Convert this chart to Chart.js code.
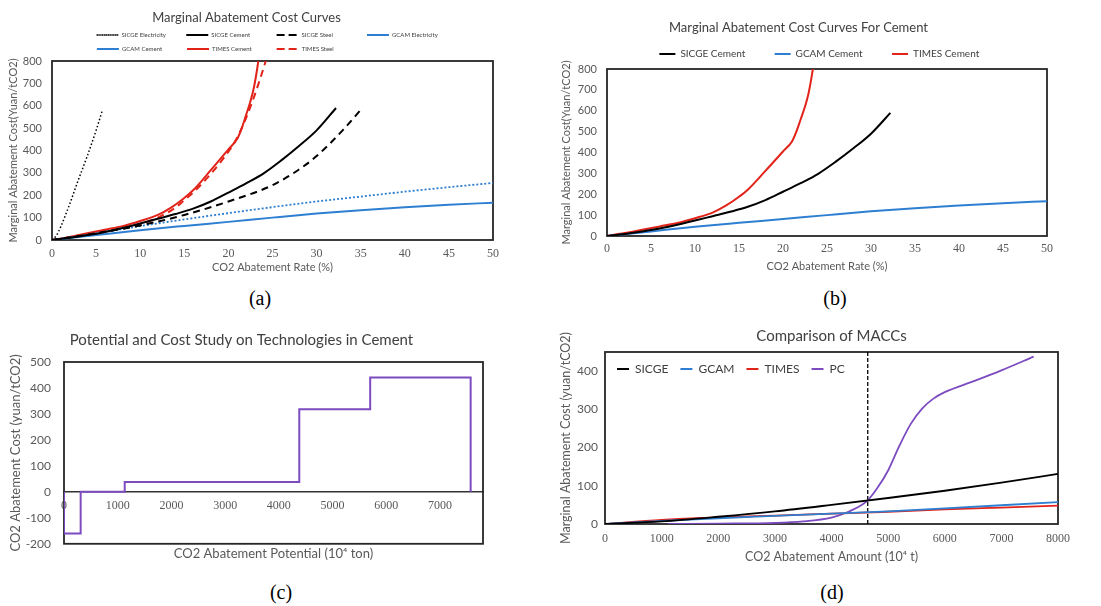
<!DOCTYPE html>
<html>
<head>
<meta charset="utf-8">
<script src="https://cdn.jsdelivr.net/npm/chart.js@4.4.1/dist/chart.umd.min.js"></script>
<style>
  body { margin: 0; background: #fff; }
  #page { position: relative; width: 1101px; height: 606px; overflow: hidden; background: #fff; }
  canvas { position: absolute; }
  .cap { position: absolute; font-family: "Liberation Serif", "Times New Roman", serif; font-size: 20px; color: #000; transform: translate(-50%, -50%); }
</style>
</head>
<body>
<div id="page">
  <canvas id="chartA" width="550" height="276" style="left:0;top:0"></canvas>
  <canvas id="chartB" width="551" height="273" style="left:550px;top:0"></canvas>
  <canvas id="chartC" width="550" height="244" style="left:0;top:320px"></canvas>
  <canvas id="chartD" width="551" height="246" style="left:550px;top:320px"></canvas>
  <div class="cap" style="left:260px;top:298px">(a)</div>
  <div class="cap" style="left:835px;top:298px">(b)</div>
  <div class="cap" style="left:281px;top:592px">(c)</div>
  <div class="cap" style="left:832px;top:592px">(d)</div>
</div>
<script>
// ---- (a) / (b): abatement rate (%) vs marginal cost (yuan/tCO2)
const sicgeElecRate = [0, 0.5, 1, 2, 3, 4, 5, 5.7];
const sicgeElecCost = [0, 20, 60, 160, 270, 375, 490, 578];
const sicgeCementRate = [0, 2, 4, 6, 8, 10, 12, 14, 16, 18, 20, 22, 24, 26, 28, 30, 32.2];
const sicgeCementCost = [0, 10, 22, 36, 54, 74, 95, 116, 140, 172, 212, 253, 298, 356, 420, 490, 590];
const sicgeSteelRate = [0, 5, 10, 15, 20, 25, 28, 30, 33, 34.9];
const sicgeSteelCost = [0, 30, 65, 112, 172, 245, 315, 375, 492, 577];
const gcamRate = [0, 5, 10, 15, 20, 25, 30, 35, 40, 45, 50];
const gcamElecCost = [0, 30, 62, 92, 120, 147, 172, 194, 216, 236, 255];
const gcamCementCost = [0, 22, 44, 63, 81, 100, 118, 133, 146, 157, 167];
const timesCementRate = [0, 2, 4, 6, 8, 10, 12, 13.5, 15, 16, 18, 20, 21, 21.5, 22, 22.5, 22.9, 23.25, 23.5];
const timesCementCost = [0, 14, 30, 46, 62, 85, 112, 145, 188, 222, 312, 405, 452, 498, 558, 620, 683, 762, 830];
const timesSteelRate = [0, 5, 10, 12, 14, 15, 16, 18, 20, 21, 22, 23, 24, 24.5];
const timesSteelCost = [0, 32, 72, 100, 145, 178, 212, 295, 395, 458, 545, 650, 770, 835];
const rateTicks = [0, 5, 10, 15, 20, 25, 30, 35, 40, 45, 50];

// ---- (c): technology blocks (start of cumulative potential, 10^4 t) and cost
const techStart = [0, 310, 1130, 4380, 5700];
const techCost = [-160, 0, 38, 318, 440];
const totalPotential = 7570;
const potentialTicks = [0, 1000, 2000, 3000, 4000, 5000, 6000, 7000];

// ---- (d): abatement amount (10^4 t) vs cost
const amount = [0, 1000, 2000, 3000, 4000, 5000, 6000, 7000, 8000];
const sicgeAmountCost = [0, 7, 19, 33, 50, 68, 87, 108, 131];
const gcamAmountCost = [0, 8, 15, 21, 27, 33, 41, 49, 57];
const timesAmountCost = [0, 11, 17, 22, 27, 32, 38, 43, 48];
const pcAmount = [1110, 2000, 3000, 3500, 4000, 4300, 4640, 4800, 5000, 5200, 5400, 5600, 5800, 6000, 6500, 7000, 7570];
const pcCost = [0, 1, 3, 7, 17, 32, 62, 92, 140, 205, 262, 302, 328, 345, 373, 402, 438];
const crossAmount = 4640;

const BLACK = '#000000', BLUE = '#2e7fd1', RED = '#e2231a', PURPLE = '#7d4bc0';
const SERIF = '"Liberation Serif", "Times New Roman", serif';

Chart.defaults.font.family = 'Lato, "Open Sans", sans-serif';
Chart.defaults.color = '#595959';
Chart.defaults.elements.point.radius = 0;

const pts = (xs, ys) => xs.map((x, i) => ({ x, y: ys[i] }));

function line(label, xs, ys, color, width, dash) {
  return {
    label, data: pts(xs, ys), borderColor: color, backgroundColor: color,
    borderWidth: width, borderDash: dash || [], cubicInterpolationMode: 'monotone'
  };
}

// pad legend texts so every item has the same width (Excel-like grid)
function gridLabels(font, textWidth, fillRow) {
  return chart => {
    const items = Chart.defaults.plugins.legend.labels.generateLabels(chart);
    if (fillRow) items.push({ text: '', fillStyle: 'rgba(0,0,0,0)', strokeStyle: 'rgba(0,0,0,0)', lineWidth: 0, datasetIndex: -1 });
    const ctx = chart.ctx;
    ctx.font = font;
    items.forEach(it => { while (ctx.measureText(it.text).width < textWidth) it.text += ' '; });
    return items;
  };
}

function xAxis(min, max, tickValues, title, titleSize, height, tickPad, titlePad) {
  return {
    type: 'linear', min, max,
    grid: { display: false, drawTicks: false }, border: { display: false },
    afterBuildTicks: s => { s.ticks = tickValues.map(value => ({ value })); },
    ticks: { padding: tickPad, maxRotation: 0, autoSkip: false, callback: v => String(v), font: { family: SERIF, size: 12 } },
    title: { display: true, text: title, font: { size: titleSize }, padding: { top: 0, bottom: titlePad } },
    afterFit: s => { s.height = height; }
  };
}

function yAxis(min, max, step, title, titleSize, tickSize, width, tickPad, titlePad) {
  return {
    min, max,
    grid: { display: false, drawTicks: false }, border: { display: false },
    ticks: { stepSize: step, includeBounds: false, padding: tickPad, font: { size: tickSize } },
    title: { display: true, text: title, font: { size: titleSize }, padding: { top: titlePad, bottom: 0 } },
    afterFit: s => { s.width = width; }
  };
}

const titleFont = size => ({ size, weight: 'normal', lineHeight: 1 });

const plotFrame = {
  id: 'plotFrame',
  beforeDatasetsDraw(chart) {
    const { ctx, chartArea: a } = chart;
    ctx.save();
    ctx.strokeStyle = '#262626';
    ctx.lineWidth = 1.8;
    ctx.strokeRect(a.left, a.top, a.width, a.height);
    ctx.restore();
  }
};

// (a)
new Chart(document.getElementById('chartA'), {
  type: 'line',
  data: {
    datasets: [
      line('SICGE Electricity', sicgeElecRate, sicgeElecCost, BLACK, 1.5, [1.5, 2.2]),
      line('SICGE Cement', sicgeCementRate, sicgeCementCost, BLACK, 2),
      line('SICGE Steel', sicgeSteelRate, sicgeSteelCost, BLACK, 2, [7, 5]),
      line('GCAM Electricity', gcamRate, gcamElecCost, BLUE, 1.8, [2, 2]),
      line('GCAM Cement', gcamRate, gcamCementCost, BLUE, 2),
      line('TIMES Cement', timesCementRate, timesCementCost, RED, 2),
      line('TIMES Steel', timesSteelRate, timesSteelCost, RED, 2, [7, 5])
    ]
  },
  options: {
    animation: false, responsive: false,
    layout: { padding: { right: 57 } },
    plugins: {
      title: { display: true, text: 'Marginal Abatement Cost Curves', color: '#404040', font: titleFont(13), padding: { top: 11, bottom: 0 } },
      legend: {
        fullSize: false, maxHeight: 37,
        labels: { font: { size: 6 }, color: '#404040', boxWidth: 22, boxHeight: 0, padding: 8, generateLabels: gridLabels('6px Lato', 56, true) }
      },
      tooltip: { enabled: false }
    },
    scales: {
      x: xAxis(0, 50, rateTicks, 'CO2 Abatement Rate (%)', 11, 36, 7, 2),
      y: yAxis(0, 800, 100, 'Marginal Abatement Cost(Yuan/tCO2)', 11, 11, 52, 10, 7)
    }
  },
  plugins: [plotFrame]
});

// (b)
new Chart(document.getElementById('chartB'), {
  type: 'line',
  data: {
    datasets: [
      line('SICGE Cement', sicgeCementRate, sicgeCementCost, BLACK, 2),
      line('GCAM Cement', gcamRate, gcamCementCost, BLUE, 2),
      line('TIMES Cement', timesCementRate, timesCementCost, RED, 2)
    ]
  },
  options: {
    animation: false, responsive: false,
    layout: { padding: { right: 54 } },
    plugins: {
      title: { display: true, text: 'Marginal Abatement Cost Curves For Cement', color: '#404040', font: titleFont(13), padding: { top: 21, bottom: 1 } },
      legend: {
        fullSize: false,
        labels: { font: { size: 10 }, color: '#404040', boxWidth: 16, boxHeight: 0, padding: 14, generateLabels: gridLabels('10px Lato', 80, false) }
      },
      tooltip: { enabled: false }
    },
    scales: {
      x: xAxis(0, 50, rateTicks, 'CO2 Abatement Rate (%)', 11, 37, 6, 0),
      y: yAxis(0, 800, 100, 'Marginal Abatement Cost(Yuan/tCO2)', 11, 11, 57, 10, 10)
    }
  },
  plugins: [plotFrame]
});

// (c)
const stepPoints = [{ x: 0, y: 0 }]
  .concat(techStart.map((x, i) => ({ x, y: techCost[i] })))
  .concat([{ x: totalPotential, y: 0 }]);

new Chart(document.getElementById('chartC'), {
  type: 'line',
  data: {
    datasets: [{ label: 'PC', data: stepPoints, stepped: 'before', borderColor: PURPLE, borderWidth: 2 }]
  },
  options: {
    animation: false, responsive: false,
    layout: { padding: { right: 67 } },
    plugins: {
      title: { display: true, text: 'Potential and Cost Study on Technologies in Cement', color: '#404040', font: titleFont(15), padding: { top: 13, bottom: 14 } },
      legend: { display: false },
      tooltip: { enabled: false }
    },
    scales: {
      x: {
        type: 'linear', min: 0, max: 7800, position: { y: 0 },
        grid: { display: false, drawTicks: false },
        border: { display: true, color: '#333', width: 1.5 },
        afterBuildTicks: s => { s.ticks = potentialTicks.map(value => ({ value })); },
        ticks: { padding: 7, maxRotation: 0, autoSkip: false, callback: v => String(v), font: { family: SERIF, size: 12 } }
      },
      xt: {
        type: 'linear', min: 0, max: 7800, position: 'bottom',
        grid: { display: false, drawTicks: false }, border: { display: false },
        ticks: { display: false },
        title: { display: true, text: 'CO2 Abatement Potential (10\u2074 ton)', font: { size: 13 }, padding: { top: 0, bottom: 2 } },
        afterFit: s => { s.height = 20; }
      },
      y: yAxis(-200, 500, 100, 'CO2 Abatement Cost (yuan/tCO2)', 13, 12, 64, 13, 8.5)
    }
  },
  plugins: [plotFrame]
});

// (d)
const legendInPlot = {
  id: 'legendInPlot',
  afterLayout(chart) {
    const lg = chart.legend;
    lg.height = 40;
    lg.bottom = lg.top + 40;
  }
};

new Chart(document.getElementById('chartD'), {
  type: 'line',
  data: {
    datasets: [
      line('SICGE', amount, sicgeAmountCost, BLACK, 1.8),
      line('GCAM', amount, gcamAmountCost, BLUE, 1.8),
      line('TIMES', amount, timesAmountCost, RED, 1.8),
      line('PC', pcAmount, pcCost, PURPLE, 1.8),
      { label: 'cross', data: [{ x: crossAmount, y: 0 }, { x: crossAmount, y: 450 }], borderColor: BLACK, borderWidth: 1.3, borderDash: [4, 2] }
    ]
  },
  options: {
    animation: false, responsive: false,
    layout: { padding: { right: 43 } },
    plugins: {
      title: { display: true, fullSize: false, text: 'Comparison of MACCs', color: '#404040', font: titleFont(15), padding: { top: 9, bottom: 7 } },
      legend: {
        fullSize: false, align: 'start', maxHeight: 1,
        labels: { font: { size: 12 }, color: '#404040', boxWidth: 12, boxHeight: 0, padding: 12, filter: item => item.datasetIndex < 4 }
      },
      tooltip: { enabled: false }
    },
    scales: {
      x: xAxis(0, 8000, amount, 'CO2 Abatement Amount (10\u2074 t)', 12.5, 42, 8, 2),
      y: yAxis(0, 450, 100, 'Marginal Abatement Cost (yuan/tCO2)', 12.5, 12, 55, 7, 8)
    }
  },
  plugins: [plotFrame, legendInPlot]
});
</script>
</body>
</html>
